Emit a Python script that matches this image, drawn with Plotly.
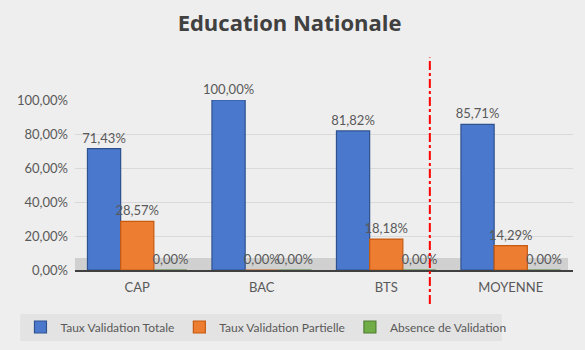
import plotly.graph_objects as go

categories = ["CAP", "BAC", "BTS", "MOYENNE"]
totale = [0.7143, 1.0, 0.8182, 0.8571]
partielle = [0.2857, 0.0, 0.1818, 0.1429]
absence = [0.0, 0.0, 0.0, 0.0]
y_ticks = [0, 0.2, 0.4, 0.6, 0.8, 1.0]

series = [
    ("Taux Validation Totale", totale, "#4A78CC", "#2F528F"),
    ("Taux Validation Partielle", partielle, "#ED7D31", "#C55A11"),
    ("Absence de Validation", absence, "#70AD47", "#507E32"),
]

font_family = "Lato, 'Open Sans', sans-serif"

fig = go.Figure()
for name, vals, col, line in series:
    fig.add_trace(go.Bar(
        name=name, x=categories, y=vals,
        marker=dict(color=col, line=dict(color=line, width=1.2)),
        texttemplate="%{y:.2%}", textposition="outside",
        constraintext="none",
        textfont=dict(size=13, color="#595959", family=font_family),
        cliponaxis=False,
    ))

fig.update_layout(
    width=585, height=350,
    paper_bgcolor="#eeeeee", plot_bgcolor="rgba(0,0,0,0)",
    separators=", ",
    barmode="group", bargap=0.2, bargroupgap=0.0,
    margin=dict(l=75, r=12, t=100, b=80, autoexpand=False),
    font=dict(family=font_family, color="#595959", size=13),
    title=dict(text="<b>Education Nationale</b>", x=0.495, xanchor="center",
               y=1 - 23 / 350, yanchor="middle", yref="container",
               font=dict(size=22, color="#404040", family="'Open Sans', sans-serif")),
    legend=dict(orientation="h", xref="container", yref="container",
                x=0.035, xanchor="left", y=1 - 327 / 350, yanchor="middle",
                bgcolor="rgba(0,0,0,0)", font=dict(size=12, color="#595959"),
                itemwidth=30, traceorder="normal"),
    showlegend=True,
)
fig.update_yaxes(range=[0, 1.0], tickvals=y_ticks, tickformat=".2%",
                 showgrid=True, gridcolor="#d9d9d9", zeroline=False,
                 ticks="", ticklabelstandoff=6, automargin=False)
fig.update_xaxes(showline=True, linecolor="#404040", linewidth=2, ticks="",
                 ticklabelstandoff=4, automargin=False)

# legend background band
fig.add_shape(type="rect", xref="paper", yref="paper",
              x0=-0.11, x1=0.857, y0=-0.418, y1=-0.259,
              fillcolor="#e3e3e3", line=dict(width=0), layer="below")
# 3D-style floor
fig.add_shape(type="rect", xref="paper", yref="paper",
              x0=0.0, x1=0.99, y0=0.0, y1=0.07,
              fillcolor="#d0d0d0", line=dict(width=0), layer="below")
# red dash-dot separator
fig.add_shape(type="line", xref="x", yref="paper",
              x0=2.35, x1=2.35, y0=-0.2, y1=1.25,
              line=dict(color="#FF0000", width=2, dash="dashdot"))

fig.write_html("out.html")
